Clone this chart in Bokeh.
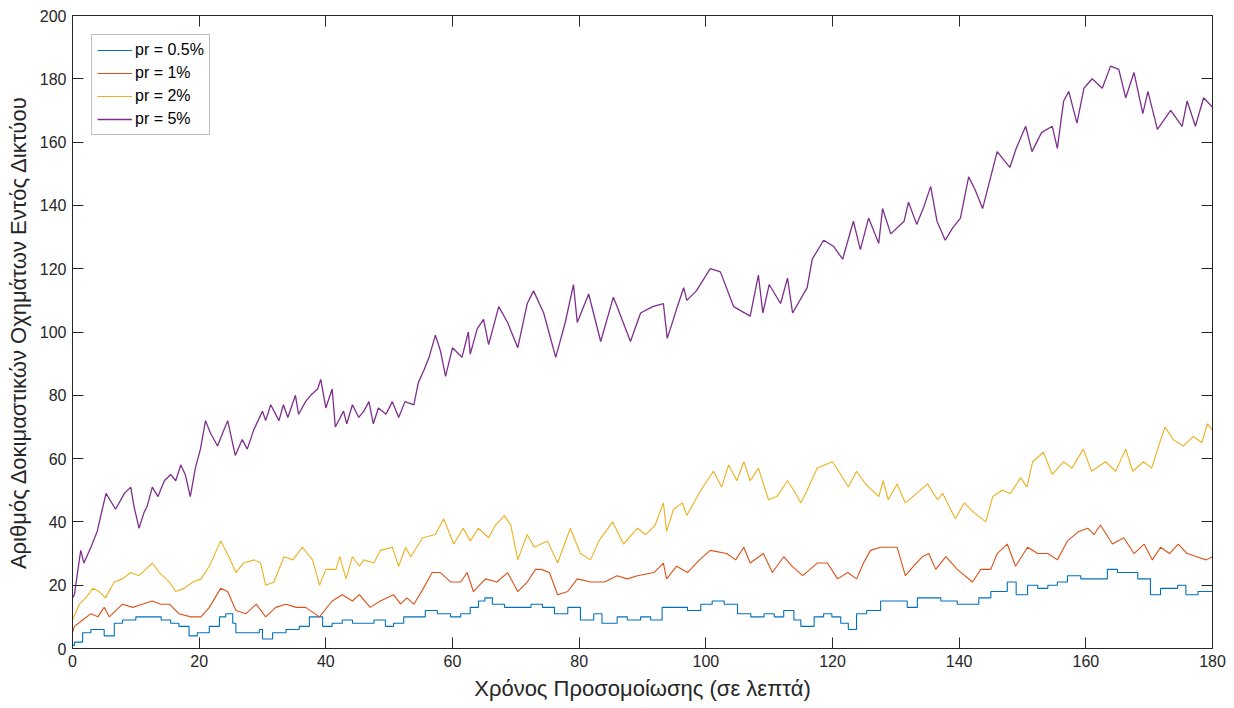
from bokeh.plotting import figure
from bokeh.models import Legend, LegendItem, LinearAxis, FixedTicker, CustomJSTickFormatter
from bokeh.embed import file_html
from bokeh.resources import INLINE

# ---------------- data ----------------
x_ticks = [0, 20, 40, 60, 80, 100, 120, 140, 160, 180]
y_ticks = [0, 20, 40, 60, 80, 100, 120, 140, 160, 180, 200]

series_labels = ["pr = 0.5%", "pr = 1%", "pr = 2%", "pr = 5%"]

t_05 = [0, 0.3, 1.6, 2.9, 4.2, 5, 6.6, 7.9, 10, 11.6, 12.9, 14, 15.5, 16.8, 18.4, 19.7, 21.6, 23.2, 24.2, 25.3,
        25.8, 27.9, 29.5, 30, 31.6, 33.7, 35.8, 37.4, 39.5, 41, 42.6, 44.2, 45.5, 47.6, 49.4, 50.7, 52.3, 53.6,
        55.7, 57.6, 59.7, 61.3, 62.8, 64.1, 65.1, 66.3, 68.2, 70, 72.4, 74.2, 76.1, 78.2, 80.2, 82.3, 83.6, 86,
        87.6, 89.7, 91.3, 93.1, 94.9, 97.1, 99.2, 101, 102.9, 105, 107.1, 109.2, 110.8, 112.3, 113.9, 115, 116,
        117.1, 118.6, 119.9, 121.3, 122.5, 123.8, 125.4, 127.6, 129.7, 131.8, 133.4, 135.2, 137.1, 139.7, 141.8,
        143.1, 145, 147.6, 149, 150.8, 152.4, 154, 155.5, 157.1, 159.2, 161.3, 163.4, 165, 166.6, 168.2, 170.2,
        171.8, 174.5, 175.8, 177.7, 180]
v_05 = [1, 2, 5, 6, 6, 4, 8, 9, 10, 10, 10, 9, 8, 7, 4, 5, 7, 10, 11, 8,
        5, 5, 6, 3, 5, 6, 7, 10, 7, 8, 9, 8, 8, 9, 7, 8, 10, 10,
        12, 11, 10, 11, 13, 15, 16, 14, 13, 13, 14, 13, 11, 13, 9, 11, 8, 10,
        9, 10, 9, 13, 13, 12, 14, 15, 14, 11, 10, 11, 10, 12, 9, 7, 7,
        10, 11, 10, 8, 6, 11, 12, 15, 15, 13, 16, 16, 15, 14, 14,
        16, 18, 21, 17, 20, 19, 20, 21, 23, 22, 22, 25, 24, 24, 22, 17,
        19, 20, 17, 18, 18]

t_1 = [0, 0.3, 1.6, 2.9, 4, 5, 5.8, 7.9, 9.5, 11, 12.6, 13.9, 15.3, 16.8, 18.7, 20.3, 21.6, 23.4, 24.5, 25.8,
       27.4, 29, 30.5, 32.1, 33.7, 35.3, 36.8, 39, 41, 42.6, 44.2, 45.3, 47, 48.6, 50.7, 51.8, 52.8, 53.9, 55.4,
       56.8, 58.1, 59.7, 61.3, 62.3, 63.3, 65.2, 67, 68.7, 70.3, 71.8, 73.1, 74, 75.3, 76.6, 78.2, 79.7, 81.8,
       84, 86, 87.6, 89.2, 91.8, 93.3, 93.8, 95.4, 97.1, 99, 100.7, 103.3, 104.7, 106, 107, 109.1, 110.5, 112.3,
       113.6, 115.3, 117.6, 119.2, 120.8, 122.4, 123.8, 124.9, 126, 127.6, 128.9, 130.2, 131.5, 132.8, 134.2,
       135.2, 136.3, 137.9, 139.7, 142.1, 143.4, 145, 146, 147.6, 148.9, 150.8, 152.4, 154, 155.5, 157.1, 158.9,
       160.3, 161.3, 162.3, 164.2, 166, 167.6, 169.2, 170.5, 171.8, 173.2, 174.6, 176, 177.5, 179, 180]
v_1 = [5, 7, 9, 11, 10, 13, 10, 14, 13, 14, 15, 14, 14, 11, 10, 10, 13, 19, 18, 12,
       11, 14, 10, 13, 14, 13, 13, 10, 15, 17, 15, 17, 13, 15, 17, 14, 16, 14, 19,
       24, 24, 21, 21, 24, 18, 22, 21, 24, 18, 21, 25, 25, 24, 17, 18, 22, 21,
       21, 23, 22, 23, 24, 27, 22, 26, 24, 28, 31, 30, 28, 32, 27, 30, 24, 29,
       26, 23, 27, 27, 22, 24, 22, 27, 31, 32, 32, 32, 23, 26, 29,
       30, 25, 29, 25, 21, 25, 25, 30, 33, 26, 32, 30, 30, 28, 34, 37,
       38, 36, 39, 33, 35, 30, 33, 28, 32, 30, 33, 30, 29, 28, 29]

t_2 = [0, 1.1, 2.1, 3.2, 4.2, 5.2, 6.6, 7.9, 9.2, 10.5, 12.6, 13.7, 15.3, 16.3, 17.6, 19, 20.3, 21.6, 23.4, 24.7,
       25.8, 27, 28.7, 29.7, 30.5, 31.8, 33.4, 34.8, 36.3, 37.9, 39, 40, 41.6, 42.2, 43.2, 44.2, 45.3, 46, 47.6,
       48.6, 50.5, 51.5, 52.6, 53.4, 55.3, 57.3, 58.6, 60.2, 61.7, 62.8, 64.1, 65.7, 66.8, 68.2, 69.2, 70.3, 71.8,
       72.9, 75, 76.6, 78.6, 80.2, 81.8, 83.1, 85.3, 87, 89.2, 90.5, 92, 93.3, 93.8, 94.9, 96.3, 97, 99.2, 101.2,
       102.5, 103.6, 104.9, 106, 107, 108.3, 109.9, 111.2, 112.9, 113.9, 115, 116, 117.6, 120, 121.3, 122.5,
       123.8, 125.2, 127.3, 128, 128.8, 130.2, 131.5, 133.3, 135, 136.6, 137.4, 139.4, 140.8, 142.3, 144.2,
       145.3, 146.8, 148.1, 149.7, 150.7, 151.6, 153.3, 154.7, 156.5, 157.8, 159.6, 160.9, 163.1, 164.7, 166.3,
       167.4, 169.1, 170.4, 171.5, 172.5, 173.8, 175.4, 177, 178.3, 179.2, 180]
v_2 = [9, 14, 16, 19, 18, 16, 21, 22, 24, 23, 27, 24, 21, 18, 19, 21, 22, 26, 34, 29,
       24, 27, 28, 27, 20, 21, 29, 28, 32, 28, 20, 25, 25, 29, 22, 29, 26, 28, 27,
       31, 32, 26, 32, 29, 35, 36, 41, 33, 38, 34, 38, 35, 39, 42, 39, 28, 36,
       32, 34, 27, 38, 30, 28, 34, 40, 33, 38, 36, 39, 46, 37, 44, 46, 42, 50, 56,
       51, 58, 53, 59, 53, 57, 47, 48, 53, 50, 46, 50, 57, 59, 55, 51,
       56, 52, 48, 53, 47, 52, 46, 49, 52, 47, 49, 41, 46, 43, 40,
       48, 50, 49, 54, 51, 59, 62, 55, 59, 57, 63, 56, 59, 56, 63,
       56, 59, 57, 64, 70, 66, 64, 67, 65, 71, 69]

t_5 = [0, 0.3, 1.3, 1.8, 2.9, 3.9, 4.7, 5.3, 6.8, 8.2, 9.2, 9.7, 10.5, 11.3, 11.8, 12.6, 13.5, 14.5, 15.5, 16.3,
       17.1, 17.8, 18.6, 19.4, 20.2, 21, 21.8, 22.9, 23.7, 24.5, 25.7, 26.8, 27.6, 28.6, 30, 30.5, 31.3, 32.6,
       33.3, 34, 35.2, 35.7, 36.8, 37.6, 38.7, 39.2, 40, 41, 41.5, 42.8, 43.3, 44.2, 45.2, 46, 46.8, 47.5, 48.3,
       49.5, 50.5, 51.5, 52.5, 53.9, 54.6, 55.5, 56.3, 57.3, 58.1, 58.9, 60, 61.5, 62.5, 62.8, 63.9, 64.9, 65.7,
       67.3, 68.7, 70.3, 71.8, 72.8, 74.4, 76.3, 77.8, 79.1, 79.7, 81.5, 83.4, 85.4, 86, 88.1, 89.7, 91.6, 93.3,
       93.9, 94.4, 95.5, 96.5, 97, 98.5, 100.7, 102.3, 104.4, 107, 108.3, 109, 110, 111.8, 112.9, 113.7, 116,
       116.8, 118.6, 120.2, 121.6, 123.3, 124.4, 125.7, 127.3, 127.9, 129.2, 131.3, 132, 133.3, 134.5, 135.5,
       136.5, 137.8, 139, 140.2, 141.5, 142.5, 143.7, 146, 148, 149, 150.5, 151.5, 153, 154.7, 155.5, 156.5,
       157.3, 158.6, 159.7, 161, 162.6, 163.9, 165.2, 166.3, 167.6, 169, 169.8, 171.3, 173.4, 175.2, 176, 177.3,
       178.6, 180]
v_5 = [16, 17, 31, 27, 32, 37, 44, 49, 44, 49, 51, 45, 38, 43, 45, 51, 48, 53, 55, 53,
       58, 55, 48, 57, 63, 72, 68, 64, 68, 72, 61, 66, 63, 69, 75, 72, 77, 72,
       77, 73, 80, 74, 78, 80, 82, 85, 76, 82, 70, 75, 71, 77, 73, 75, 78, 71, 76,
       74, 78, 73, 78, 77, 84, 88, 92, 99, 94, 86, 95, 92, 100, 93, 101, 104, 96,
       108, 103, 95, 109, 113, 106, 92, 103, 115, 103, 112, 97, 111, 108, 97, 106, 108, 109,
       98, 101, 108, 114, 110, 113, 120, 119, 108, 105, 118, 106, 115, 109, 117, 106, 114,
       123, 129, 127, 123, 135, 126, 136, 128, 139, 131, 135, 141, 134, 140, 146,
       135, 129, 133, 136, 149, 145, 139, 157, 152, 158, 165, 157, 163, 165, 158, 173,
       176, 166, 177, 180, 177, 184, 183, 174, 182, 169, 176, 164, 170, 165, 173, 165,
       174, 171]

colors = ["#0072BD", "#D95319", "#EDB120", "#7E2F8E"]

FONT = "Liberation Sans"
AX = "#262626"

p = figure(width=1234, height=708, output_backend="svg", toolbar_location=None,
           x_range=(0, 180), y_range=(0, 200),
           min_border_left=72, min_border_right=22, min_border_top=15, min_border_bottom=60)
p.background_fill_color = "white"
p.border_fill_color = "white"
p.outline_line_color = AX
p.outline_line_width = 1
p.xgrid.visible = False
p.ygrid.visible = False

r_05 = p.step(t_05, v_05, mode="after", line_color=colors[0], line_width=1.1)
r_1 = p.line(t_1, v_1, line_color=colors[1], line_width=1.1)
r_2 = p.line(t_2, v_2, line_color=colors[2], line_width=1.1)
r_5 = p.line(t_5, v_5, line_color=colors[3], line_width=1.3)

def style_axis(ax, ticks, show_labels=True):
    ax.ticker = FixedTicker(ticks=ticks)
    ax.axis_line_color = AX
    ax.major_tick_line_color = AX
    ax.major_tick_in = 11
    ax.major_tick_out = 0
    ax.minor_tick_line_color = None
    if show_labels:
        ax.major_label_text_font = FONT
        ax.major_label_text_font_size = "16px"
        ax.major_label_text_color = "#262626"
        ax.major_label_standoff = 6
    else:
        ax.formatter = CustomJSTickFormatter(code="return ''")
        ax.major_label_standoff = 0

style_axis(p.xaxis[0], x_ticks)
style_axis(p.yaxis[0], y_ticks)
p.xaxis[0].axis_label = "Χρόνος Προσομοίωσης (σε λεπτά)"
p.yaxis[0].axis_label = "Αριθμός Δοκιμαστικών Οχημάτων Εντός Δικτύου"
for ax in (p.xaxis[0], p.yaxis[0]):
    ax.axis_label_text_font = FONT
    ax.axis_label_text_font_size = "22px"
    ax.axis_label_text_font_style = "normal"
    ax.axis_label_text_color = "#262626"
    ax.axis_label_standoff = 6

top_ax = LinearAxis()
style_axis(top_ax, x_ticks, show_labels=False)
p.add_layout(top_ax, "above")
right_ax = LinearAxis()
style_axis(right_ax, y_ticks, show_labels=False)
p.add_layout(right_ax, "right")

legend = Legend(items=[LegendItem(label=series_labels[0], renderers=[r_05]),
                       LegendItem(label=series_labels[1], renderers=[r_1]),
                       LegendItem(label=series_labels[2], renderers=[r_2]),
                       LegendItem(label=series_labels[3], renderers=[r_5])],
                location="top_left")
legend.margin = 19
legend.padding = 5
legend.spacing = 3
legend.glyph_width = 35
legend.glyph_height = 20
legend.label_height = 20
legend.label_standoff = 3
legend.label_text_font = FONT
legend.label_text_font_size = "16px"
legend.label_text_color = "#000000"
legend.border_line_color = "#7f7f7f"
legend.border_line_width = 1
legend.background_fill_color = "white"
legend.background_fill_alpha = 1
p.add_layout(legend)

open("out.html", "w").write(file_html(p, INLINE))
